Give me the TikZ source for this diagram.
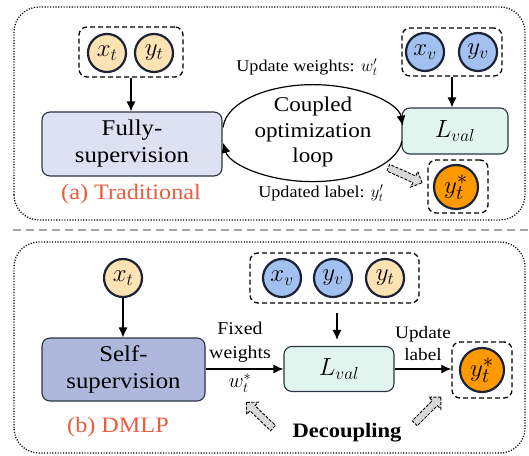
\documentclass[tikz,border=0pt]{standalone}
\usepackage{fontspec}
\setmainfont{Liberation Serif}[FakeStretch=1.1]
\usetikzlibrary{arrows.meta,shapes.geometric,shapes.arrows}
\definecolor{navy}{HTML}{1B2235}
\definecolor{boxline}{HTML}{2C3440}
\definecolor{fullfill}{HTML}{DEE1F1}
\definecolor{selffill}{HTML}{AEB8DC}
\definecolor{lvalfill}{HTML}{E0F5EE}
\definecolor{peach}{HTML}{FDE2B3}
\definecolor{bluec}{HTML}{A3C1F0}
\definecolor{orangec}{HTML}{FF9900}
\definecolor{redlab}{HTML}{EE5A3C}
\definecolor{grayarrow}{HTML}{D9D9D9}
\tikzset{
  circ/.style={circle,draw=navy,line width=2.2pt,minimum size=38pt,inner sep=0pt,font=\fontsize{26}{30}\selectfont},
  bigcirc/.style={circ,minimum size=44pt,fill=orangec,font=\fontsize{28}{32}\selectfont},
  procbox/.style={rectangle,rounded corners=8pt,draw=boxline,line width=1.1pt,align=center,font=\fontsize{22.5}{27}\selectfont},
  dbox/.style={rectangle,rounded corners=8pt,draw=black,line width=1.3pt,dash pattern=on 5pt off 3pt},
  panel/.style={draw=black,line width=1.3pt,rounded corners=25pt,dash pattern=on 1.1pt off 1.6pt},
  arr/.style={-{Latex[length=10pt,width=9pt]},line width=1.2pt},
  lab/.style={font=\fontsize{16.5}{20}\selectfont,align=center},
  grayarr/.style={single arrow,draw=black,fill=grayarrow,line width=0.9pt,dash pattern=on 3pt off 1.5pt,minimum height=37pt,minimum width=17pt,single arrow head extend=4pt,inner sep=2.5pt,single arrow tip angle=90},
  panellab/.style={font=\fontsize{22}{26}\selectfont,text=redlab}
}
\begin{document}
\begin{tikzpicture}[x=1pt,y=1pt]
\useasboundingbox (0,0) rectangle (529,455);
% panels
\draw[panel] (14,235) rectangle (525,448);
\draw[gray!70,line width=1.6pt,dash pattern=on 8pt off 5pt] (13,225) -- (529,225);
\draw[panel] (14,2) rectangle (525,213);

% ---------- top panel ----------
\node[circ,fill=peach] (xt1) at (107,402) {$x_t$};
\node[circ,fill=peach] (yt1) at (154,402) {$y_t$};
\node[dbox,minimum width=104pt,minimum height=50pt] (in1) at (131,403) {};
\node[procbox,fill=fullfill,minimum width=180pt,minimum height=64pt] (full) at (132,311) {Fully-\\supervision};
\draw[arr] (in1.south) -- (in1.south |- full.north);
\node[panellab] (lab1) at (131,261) {(a) Traditional};

\node[circ,fill=bluec] (xv1) at (425,403) {$x_v$};
\node[circ,fill=bluec] (yv1) at (478,403) {$y_v$};
\node[dbox,minimum width=100pt,minimum height=48pt] (in2) at (452,403) {};
\node[procbox,fill=lvalfill,minimum width=106pt,minimum height=46pt,font=\fontsize{25}{30}\selectfont] (lval1) at (455,324) {$L_{val}$};
\draw[arr] (in2.south) -- (in2.south |- lval1.north);
\node[bigcirc] (ys1) at (456,268) {$y_t^*$};
\node[dbox,minimum width=60pt,minimum height=53pt] (ysb1) at (458,268.5) {};

\node[ellipse,minimum width=180pt,minimum height=90pt,align=center,font=\fontsize{21}{25.5}\selectfont] (loop) at (313,323) {Coupled\\optimization\\loop};
\draw[arr] (loop.177) arc[start angle=177,end angle=5,x radius=90pt,y radius=45pt];
\draw[arr] (loop.-6) arc[start angle=-6,end angle=-172,x radius=90pt,y radius=45pt];
\node[lab] (uw) at (307,388) {Update weights: $w_t'$};
\node[lab] (ul) at (321,262) {Updated label: $y_t'$};
\node[grayarr,rotate=-24] (ga1) at (403.5,280.5) {};

% ---------- bottom panel ----------
\node[circ,fill=peach] (xt2) at (123,177) {$x_t$};
\node[procbox,fill=selffill,minimum width=163pt,minimum height=63pt] (self) at (123.5,85.5) {Self-\\supervision};
\draw[arr] (xt2.south) -- (self.north -| xt2.south);
\node[panellab] (lab2) at (118,28) {(b) DMLP};

\node[circ,fill=bluec] (xv2) at (282,177) {$x_v$};
\node[circ,fill=bluec] (yv2) at (333,177) {$y_v$};
\node[circ,fill=peach] (yt3) at (385,177) {$y_t$};
\node[dbox,minimum width=169pt,minimum height=50pt] (in3) at (334.5,177) {};
\node[procbox,fill=lvalfill,minimum width=110pt,minimum height=45pt,font=\fontsize{25}{30}\selectfont] (lval2) at (339,86) {$L_{val}$};
\draw[arr,shorten <=9pt,shorten >=6pt] (in3.south -| 337,0) -- (lval2.north -| 337,0);
\node[bigcirc] (ys2) at (482,85) {$y_t^*$};
\node[dbox,minimum width=60pt,minimum height=56pt] (ysb2) at (482,85) {};
\draw[arr] (self.east |- lval2.west) -- (lval2.west);
\draw[arr] (lval2.east) -- (ysb2.west |- lval2.east);
\node[lab,font=\fontsize{18}{24}\selectfont] (fw) at (240,113) {Fixed\\weights};
\node[font=\fontsize{22}{26}\selectfont] (ws) at (240,72) {$w_t^*$};
\node[lab,font=\fontsize{17.5}{22}\selectfont] (upl) at (423,111) {Update\\label};
\node[font=\bfseries\fontsize{20.5}{24}\selectfont] (dec) at (347,22) {Decoupling};
\node[grayarr,rotate=136] (ga2) at (261,38.5) {};
\node[grayarr,rotate=45] (ga3) at (426.5,43.5) {};
\end{tikzpicture}
\end{document}
